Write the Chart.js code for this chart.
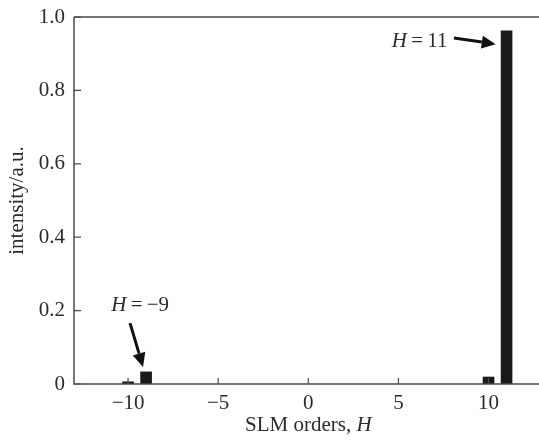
<!DOCTYPE html>
<html lang="en">
  <head>
    <meta charset="UTF-8" />
    <title>SLM orders intensity</title>
    <script src="https://cdn.jsdelivr.net/npm/chart.js"></script>
    <style>
      html,
      body {
        margin: 0;
        padding: 0;
        background: #fff;
        overflow: hidden;
      }
      #wrap {
        width: 539px;
        height: 440px;
      }
    </style>
  </head>

  <body>
    <div id="wrap"><canvas id="chart"></canvas></div>

    <script>
      // data
      const orders = [-10, -9, 10, 11];
      const intensity = [0.006, 0.033, 0.019, 0.962];
      const xTicks = [-10, -5, 0, 5, 10];
      const yTicks = [0, 0.2, 0.4, 0.6, 0.8, 1.0];

      const serif = "'Liberation Serif', 'DejaVu Serif', serif";
      const textColor = "#2b2b2b";
      const axisColor = "#4a4a4a";
      const fontSize = 21;

      // arrow annotations (data coordinates)
      const notes = [
        { value: "\u22129", tx: -9.33, ty: 0.215, align: "center", from: [-9.89, 0.166], to: [-9.17, 0.046] },
        { value: "11", tx: 7.72, ty: 0.932, align: "right", from: [8.08, 0.943], to: [10.4, 0.926] },
      ];

      function minus(v) {
        return v < 0 ? "\u2212" + Math.abs(v) : String(v);
      }

      // draws "H = value" with italic H
      function drawHLabel(ctx, rest, x, y, align, size) {
        const italic = "italic " + size + "px " + serif;
        const normal = size + "px " + serif;
        ctx.font = italic;
        const wH = ctx.measureText("H").width;
        ctx.font = normal;
        const wRest = ctx.measureText(rest).width;
        const total = wH + wRest;
        let left = x;
        if (align === "center") left = x - total / 2;
        if (align === "right") left = x - total;
        ctx.textAlign = "left";
        ctx.textBaseline = "middle";
        ctx.font = italic;
        ctx.fillText("H", left, y);
        ctx.font = normal;
        ctx.fillText(rest, left + wH, y);
      }

      const framePlugin = {
        id: "frame",
        afterDraw(chart) {
          const { ctx, chartArea, scales } = chart;
          const xs = scales.x;
          const ys = scales.y;
          ctx.save();
          ctx.strokeStyle = axisColor;
          ctx.lineWidth = 1.5;
          // axes + top line
          ctx.beginPath();
          ctx.moveTo(chartArea.left, chartArea.top);
          ctx.lineTo(chartArea.right + 5, chartArea.top);
          ctx.moveTo(chartArea.left, chartArea.top);
          ctx.lineTo(chartArea.left, chartArea.bottom);
          ctx.lineTo(chartArea.right + 5, chartArea.bottom);
          ctx.stroke();
          // inward ticks
          ctx.lineWidth = 1.2;
          ctx.beginPath();
          yTicks.forEach((v) => {
            const py = ys.getPixelForValue(v);
            ctx.moveTo(chartArea.left, py);
            ctx.lineTo(chartArea.left + 7, py);
          });
          xTicks.forEach((v) => {
            const px = xs.getPixelForValue(v);
            ctx.moveTo(px, chartArea.bottom);
            ctx.lineTo(px, chartArea.bottom - 6);
          });
          ctx.stroke();

          // x axis title with italic H
          ctx.fillStyle = textColor;
          const cx = xs.getPixelForValue(0);
          ctx.font = fontSize + "px " + serif;
          const w1 = ctx.measureText("SLM orders, ").width;
          ctx.font = "italic " + fontSize + "px " + serif;
          const w2 = ctx.measureText("H").width;
          const start = cx - (w1 + w2) / 2;
          ctx.textAlign = "left";
          ctx.textBaseline = "middle";
          ctx.font = fontSize + "px " + serif;
          ctx.fillText("SLM orders, ", start, 425);
          ctx.font = "italic " + fontSize + "px " + serif;
          ctx.fillText("H", start + w1, 425);

          // annotations
          notes.forEach((n) => {
            ctx.fillStyle = textColor;
            drawHLabel(ctx, "\u2009=\u2009" + n.value, xs.getPixelForValue(n.tx), ys.getPixelForValue(n.ty), n.align, fontSize);
            const x1 = xs.getPixelForValue(n.from[0]);
            const y1 = ys.getPixelForValue(n.from[1]);
            const x2 = xs.getPixelForValue(n.to[0]);
            const y2 = ys.getPixelForValue(n.to[1]);
            const ang = Math.atan2(y2 - y1, x2 - x1);
            const head = 14;
            const bx = x2 - head * Math.cos(ang);
            const by = y2 - head * Math.sin(ang);
            ctx.strokeStyle = "#111";
            ctx.lineWidth = 3;
            ctx.beginPath();
            ctx.moveTo(x1, y1);
            ctx.lineTo(bx, by);
            ctx.stroke();
            ctx.fillStyle = "#111";
            ctx.beginPath();
            ctx.moveTo(x2, y2);
            ctx.lineTo(bx + 6.5 * Math.sin(ang), by - 6.5 * Math.cos(ang));
            ctx.lineTo(bx - 6.5 * Math.sin(ang), by + 6.5 * Math.cos(ang));
            ctx.closePath();
            ctx.fill();
          });
          ctx.restore();
        },
      };

      new Chart(document.getElementById("chart"), {
        type: "bar",
        data: {
          datasets: [
            {
              data: orders.map((o, i) => ({ x: o, y: intensity[i] })),
              backgroundColor: "#1a1a1a",
              borderWidth: 0,
              barThickness: 11,
            },
          ],
        },
        options: {
          responsive: true,
          maintainAspectRatio: false,
          animation: false,
          layout: { padding: { top: 17, right: 0, left: 0, bottom: 0 } },
          plugins: {
            legend: { display: false },
            tooltip: { enabled: false },
          },
          scales: {
            x: {
              type: "linear",
              min: -13,
              max: 12.8,
              offset: false,
              grid: { display: false, drawTicks: false },
              border: { display: false },
              afterFit(scale) {
                scale.height = 56;
                scale.paddingLeft = 0;
                scale.paddingRight = 0;
              },
              afterBuildTicks(scale) {
                scale.ticks = xTicks.map((v) => ({ value: v }));
              },
              ticks: {
                padding: 7,
                color: textColor,
                font: { family: serif, size: fontSize },
                maxRotation: 0,
                callback: (v) => minus(v),
              },
            },
            y: {
              min: 0,
              max: 1,
              grid: { display: false, drawTicks: false },
              border: { display: false },
              afterFit(scale) {
                scale.width = 74;
                scale.paddingTop = 0;
                scale.paddingBottom = 0;
              },
              afterBuildTicks(scale) {
                scale.ticks = yTicks.map((v) => ({ value: v }));
              },
              ticks: {
                padding: 9,
                color: textColor,
                font: { family: serif, size: fontSize },
                callback: (v) => (v === 0 ? "0" : v.toFixed(1)),
              },
              title: {
                display: true,
                text: "intensity/a.u.",
                color: textColor,
                font: { family: serif, size: fontSize },
                padding: { top: 5, bottom: 0 },
              },
            },
          },
        },
        plugins: [framePlugin],
      });
    </script>
  </body>
</html>
